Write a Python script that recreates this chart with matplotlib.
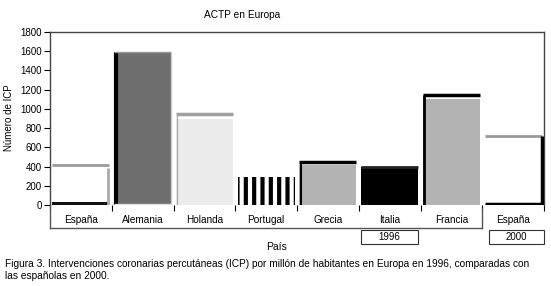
import matplotlib.pyplot as plt
from matplotlib.patches import Rectangle
import numpy as np

plt.rcParams['font.family'] = ['Liberation Sans', 'DejaVu Sans']
plt.rcParams['hatch.linewidth'] = 3.0

paises = ['España', 'Alemania', 'Holanda', 'Portugal',
          'Grecia', 'Italia', 'Francia', 'España']
icp = [415, 1590, 950, 290, 445, 395, 1140, 720]
yticks = list(range(0, 1801, 200))

titulo = 'ACTP en Europa'
ylab = 'Número de ICP'
xlab = 'País'
pie = ('Figura 3. Intervenciones coronarias percutáneas (ICP) por millón de habitantes en Europa en 1996, comparadas con\n'
       'las españolas en 2000.')

W, H = 551, 286


def fx(px):
    return px / W


def fy(py):
    return 1 - py / H


fig = plt.figure(figsize=(W / 100, H / 100), dpi=100)
ax = fig.add_axes([fx(50), fy(205), fx(544) - fx(50), fy(32) - fy(205)])

x = np.arange(len(icp))
w = 0.92
izq = x - w / 2
der = x + w / 2

# caras de las barras
caras = ['white', '#6e6e6e', '#ececec', 'white', '#b3b3b3', 'black', '#b3b3b3', 'white']
recorte = [0, 0, 50, 0, 30, 0, 40, 0]
alto = [v - r for v, r in zip(icp, recorte)]
ax.bar(x, alto, width=w, color=caras, edgecolor='none', zorder=2)

# Portugal con rayas verticales
ax.bar(x[3], icp[3], width=w, color='white', edgecolor='black',
       hatch='||', lw=0, zorder=3)

# bordes tipo relieve
def linea(x0, x1, y0, y1, c, lw):
    ax.plot([x0, x1], [y0, y1], color=c, lw=lw, solid_capstyle='butt', zorder=4)

# España 1996
i = 0
linea(izq[i], der[i], icp[i], icp[i], '#9a9a9a', 2)
linea(der[i] - 0.02, der[i] - 0.02, 0, icp[i] - 25, '#aaaaaa', 2)
ax.bar(x[i], 30, width=w, color='#111111', zorder=3)
# Alemania
i = 1
linea(izq[i] + 0.03, izq[i] + 0.03, 0, icp[i], 'black', 3)
linea(izq[i], der[i], icp[i], icp[i], '#999999', 1)
linea(der[i], der[i], 0, icp[i], '#cccccc', 1)
linea(izq[i], der[i], 10, 10, '#dddddd', 1)
# Holanda
i = 2
linea(izq[i], der[i], icp[i], icp[i], '#a0a0a0', 2.5)
linea(izq[i] + 0.02, izq[i] + 0.02, 0, icp[i], '#b0b0b0', 1)
# Grecia
i = 4
linea(izq[i], der[i], icp[i], icp[i], 'black', 2.5)
linea(izq[i] + 0.02, izq[i] + 0.02, 0, icp[i], 'black', 1.5)
# Italia
i = 5
linea(izq[i], der[i], icp[i], icp[i], '#222222', 2)
# Francia
i = 6
linea(izq[i], der[i], icp[i], icp[i], 'black', 2.5)
linea(izq[i] + 0.02, izq[i] + 0.02, 0, icp[i], 'black', 2)
# España 2000
i = 7
linea(izq[i], der[i], icp[i], icp[i], '#999999', 2)
linea(der[i], der[i], 0, icp[i], 'black', 2.5)
linea(izq[i], der[i], 8, 8, 'black', 2.5)

ax.set_xlim(-0.5, len(icp) - 0.5)
ax.set_ylim(0, 1800)
ax.set_yticks(yticks)
ax.tick_params(axis='y', labelsize=7, length=4, width=0.8, pad=2)
ax.set_xticks(np.arange(len(icp) + 1) - 0.5)
ax.set_xticklabels([])
ax.tick_params(axis='x', length=4, width=0.8, direction='out')
for s in ['left', 'top', 'right']:
    ax.spines[s].set_color('#444444')
    ax.spines[s].set_linewidth(1)
ax.spines['bottom'].set_visible(False)

# etiquetas de país
for k, p in enumerate(paises):
    ax.text(x[k], -0.085, p, transform=ax.get_xaxis_transform(),
            ha='center', va='center', fontsize=7.2)

# corchete 1996 y cajas de año
ln = dict(color='#555555', lw=1, transform=fig.transFigure, clip_on=False)
fig.add_artist(plt.Line2D([fx(50), fx(50)], [fy(205), fy(228)], **ln))
fig.add_artist(plt.Line2D([fx(50), fx(482)], [fy(228), fy(228)], **ln))
fig.add_artist(plt.Line2D([fx(482), fx(482)], [fy(208), fy(228)], **ln))
for (a, b, t) in [(361, 418, '1996'), (489, 544, '2000')]:
    fig.add_artist(Rectangle((fx(a), fy(244)), fx(b) - fx(a), fy(230) - fy(244),
                             transform=fig.transFigure, fill=False,
                             edgecolor='#333333', lw=0.8))
    fig.text(fx((a + b) / 2), fy(237), t, ha='center', va='center', fontsize=7)

fig.text(fx(242), fy(15), titulo, ha='center', va='center', fontsize=7.3)
fig.text(fx(277), fy(247), xlab, ha='center', va='center', fontsize=7.5)
fig.text(fx(9), fy(118), ylab, ha='center', va='center', rotation=90, fontsize=7)
fig.text(fx(5), fy(270), pie, ha='left', va='center', fontsize=7.3, linespacing=1.35)

fig.savefig('out.png', dpi=100)
